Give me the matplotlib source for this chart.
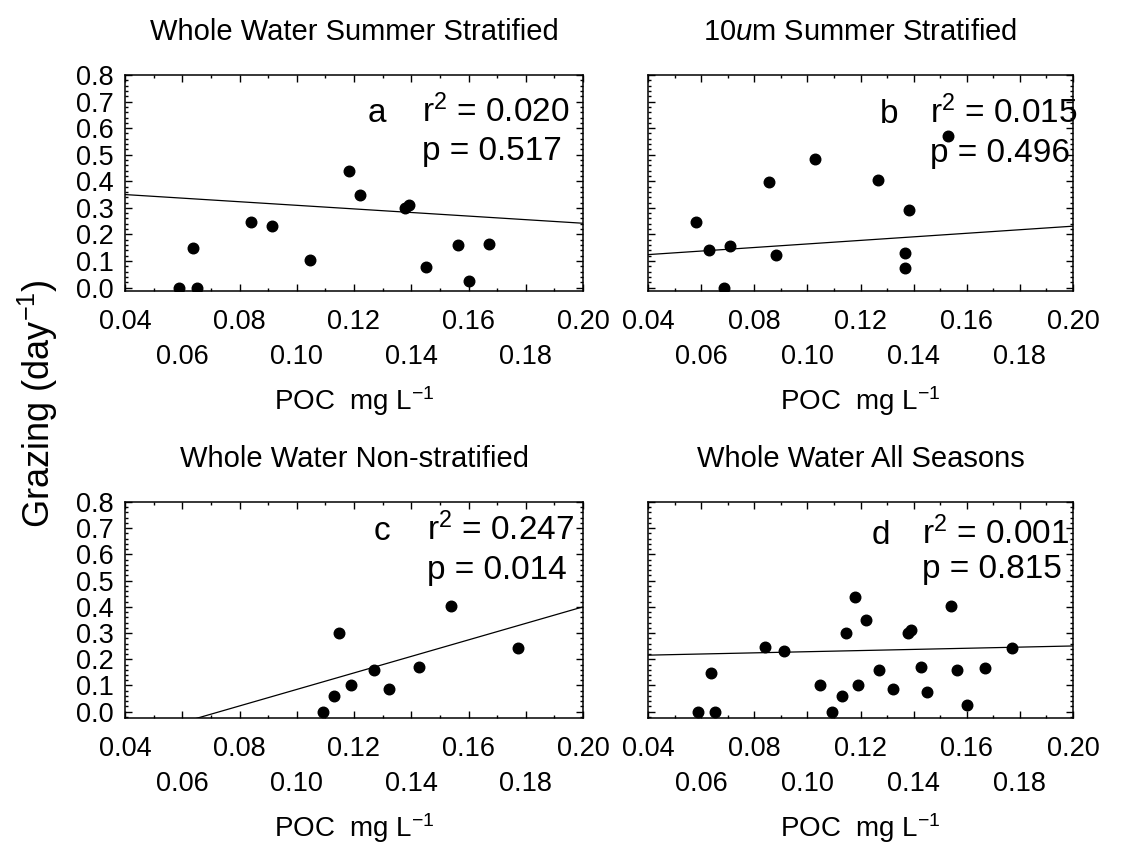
import numpy as np
import matplotlib
matplotlib.use("Agg")
import matplotlib.pyplot as plt
from matplotlib.ticker import MultipleLocator, FixedLocator

plt.rcParams['font.family'] = ['Liberation Sans', 'DejaVu Sans']
plt.rcParams['mathtext.fontset'] = 'custom'
plt.rcParams['mathtext.rm'] = 'Liberation Sans'
plt.rcParams['mathtext.it'] = 'Liberation Sans:italic'
plt.rcParams['mathtext.default'] = 'regular'

# ---------------- data ----------------
# (a) Whole water, summer stratified
poc_a = [0.059, 0.0637, 0.0653, 0.0839, 0.0912, 0.1046, 0.1181, 0.1222,
         0.1379, 0.1391, 0.1450, 0.1564, 0.1600, 0.1670]
graz_a = [0.000, 0.147, 0.000, 0.248, 0.232, 0.103, 0.438, 0.350,
          0.301, 0.311, 0.076, 0.160, 0.025, 0.165]
# (b) 10 um, summer stratified
poc_b = [0.0581, 0.0628, 0.0687, 0.0709, 0.0857, 0.0881, 0.1030, 0.1265,
         0.1369, 0.1369, 0.1384, 0.1530]
graz_b = [0.247, 0.140, 0.000, 0.158, 0.398, 0.124, 0.482, 0.405,
          0.129, 0.072, 0.292, 0.571]
# (c) Whole water, non-stratified
poc_c = [0.1092, 0.1130, 0.1146, 0.1191, 0.1270, 0.1322, 0.1426, 0.1539, 0.1772]
graz_c = [0.000, 0.061, 0.299, 0.102, 0.158, 0.085, 0.169, 0.403, 0.242]
# (d) Whole water, all seasons (a + c)
poc_d = poc_a + poc_c
graz_d = graz_a + graz_c

# regression lines (intercept, slope)
fit_a = (0.377, -0.675)
fit_b = (0.0972, 0.669)
fit_c = (-0.23, 3.15)
fit_d = (0.207, 0.219)

titles = ["Whole Water Summer Stratified", "10$\\mathit{u}$m Summer Stratified",
          "Whole Water Non-stratified", "Whole Water All Seasons"]
letters = ["a", "b", "c", "d"]
r2_text = ["0.020", "0.015", "0.247", "0.001"]
p_text = ["0.517", "0.496", "0.014", "0.815"]

x_ticks = [0.04, 0.06, 0.08, 0.10, 0.12, 0.14, 0.16, 0.18, 0.20]
x_ticklabels = ["0.04", "\n0.06", "0.08", "\n0.10", "0.12", "\n0.14", "0.16", "\n0.18", "0.20"]
y_ticks = [0.0, 0.1, 0.2, 0.3, 0.4, 0.5, 0.6, 0.7, 0.8]
y_ticklabels = ["0.0", "0.1", "0.2", "0.3", "0.4", "0.5", "0.6", "0.7", "0.8"]

# ---------------- figure ----------------
W, H = 1142, 846
fig = plt.figure(figsize=(W / 100, H / 100), dpi=100)

def px_axes(l, r, t, b):
    return fig.add_axes([l / W, 1 - b / H, (r - l) / W, (b - t) / H])

boxes = [(125, 583, 75, 291), (648, 1073, 75, 291),
         (125, 583, 502, 718), (648, 1073, 502, 718)]
ylims = [(-0.013, 0.8), (-0.013, 0.8), (-0.024, 0.8), (-0.024, 0.8)]
xs = [poc_a, poc_b, poc_c, poc_d]
ys = [graz_a, graz_b, graz_c, graz_d]
fits = [fit_a, fit_b, fit_c, fit_d]
# text anchors in pixels: (letter_x, r_x, line1_baseline, line2_baseline)
anchors = [(368, 422, 122, 160), (880, 930, 123, 162),
           (374, 427, 540, 579), (872, 922, 544, 578)]

for i, ax in enumerate([px_axes(*b) for b in boxes]):
    x = np.array(xs[i]); y = np.array(ys[i])
    ax.plot(x, y, 'o', color='black', ms=7.6, zorder=3)
    xx = np.linspace(0.04, 0.20, 200)
    ax.plot(xx, fits[i][0] + fits[i][1] * xx, color='black', lw=0.9)
    ax.set_xlim(0.04, 0.20)
    ax.set_ylim(*ylims[i])
    ax.xaxis.set_major_locator(FixedLocator(x_ticks))
    ax.xaxis.set_minor_locator(MultipleLocator(0.01))
    ax.set_xticklabels(x_ticklabels)
    ax.yaxis.set_major_locator(FixedLocator(y_ticks))
    ax.yaxis.set_minor_locator(MultipleLocator(0.02))
    if i % 2 == 0:
        ax.set_yticklabels(y_ticklabels)
    else:
        ax.set_yticklabels([])
    ax.tick_params(which='both', direction='in', top=True, right=True,
                   labelsize=19.5, width=1)
    ax.tick_params(axis='x', which='both', pad=13)
    ax.tick_params(axis='y', which='both', pad=8)
    ax.tick_params(which='major', length=5)
    ax.tick_params(which='minor', length=2.5)
    for lab in ax.get_xticklabels():
        lab.set_linespacing(1.45)
    for s in ax.spines.values():
        s.set_linewidth(1.1)
    ax.set_title(titles[i], fontsize=21, pad=25)
    ax.set_xlabel("POC  mg L$^{-1}$", fontsize=20, labelpad=10)
    lx, rx, b1, b2 = anchors[i]
    fig.text(lx / W, 1 - b1 / H, letters[i], fontsize=24, va='baseline', ha='left')
    fig.text(rx / W, 1 - b1 / H, "r$^{2}$ = " + r2_text[i], fontsize=24, va='baseline', ha='left')
    fig.text(rx / W, 1 - b2 / H, "p = " + p_text[i], fontsize=24, va='baseline', ha='left')

fig.text(38 / W, 1 - 404 / H, "Grazing (day$^{-1}$)", fontsize=26, rotation=90,
         ha='center', va='center')

fig.savefig("out.png", dpi=100)
